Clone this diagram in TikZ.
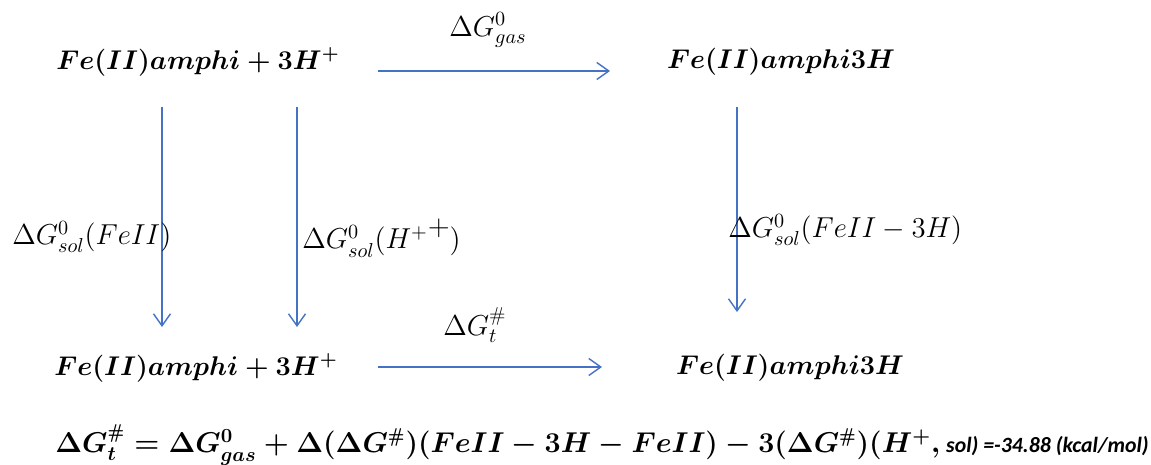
\RequirePackage{fix-cm}
\documentclass[tikz,border=0pt]{standalone}
\usepackage{amsmath}
\usepackage{fontspec}
\newfontfamily\calib{Carlito}
\usetikzlibrary{arrows.meta}
\definecolor{arrblue}{RGB}{68,114,196}
\newcommand{\spc}[1]{{\boldmath$#1$}}

\begin{document}
\begin{tikzpicture}[x=0.02cm, y=-0.02cm,
  every node/.style={font=\fontsize{15.4}{18}\selectfont, inner sep=0pt},
  lbl/.style={font=\fontsize{16.4}{19}\selectfont},
  arr/.style={draw=arrblue, line width=0.8pt,
    -{Straight Barb[length=2.4mm,width=3.4mm]}}]
  \useasboundingbox (0,0) rectangle (1151,465);
  % species
  \node (tl) at (198,62) {\spc{Fe(II)amphi + 3H^+}};
  \node (tr) at (781,62) {\spc{Fe(II)amphi3H}};
  \node (bl) at (196,368) {\spc{Fe(II)amphi + 3H^+}};
  \node (br) at (790,368) {\spc{Fe(II)amphi3H}};
  % arrow ends
  \coordinate (g0) at (378,71);  \coordinate (g1) at (610,71);
  \coordinate (t0) at (378,367); \coordinate (t1) at (602,367);
  \foreach \n/\x/\y in {a/162/327, b/297/327, c/737/312}
    { \coordinate (\n0) at (\x,107); \coordinate (\n1) at (\x,\y); }
  \draw[arr] (g0) -- (g1);
  \draw[arr] (t0) -- (t1);
  \foreach \n in {a, b, c} \draw[arr] (\n0) -- (\n1);
  % labels
  \node[lbl] (lgas) at (488,30) {$\Delta G^{0}_{gas}$};
  \node[lbl] (lt) at (475,325) {$\Delta G^{\#}_{t}$};
  \node[lbl, anchor=west] (la) at (12,237) {$\Delta G^{0}_{sol}(FeII)$};
  \node[lbl, anchor=west] (lb) at (302,238)
    {$\Delta G^{0}_{sol}(H^{+}\raisebox{1.1ex}{$+$})$};
  \node[lbl, anchor=west] (lc) at (728,230) {$\Delta G^{0}_{sol}(FeII-3H)$};
  % total
  \node[anchor=west, font=\fontsize{16.3}{19}\selectfont] (tot) at (55,445)
    {\spc{\Delta G^{\#}_{t} = \Delta G^{0}_{gas} + \Delta(\Delta G^{\#})(FeII-3H-FeII)
      - 3(\Delta G^{\#})(H^{+},}};
  \node[anchor=base west, font=\calib\fontsize{12.4}{15}\selectfont\bfseries\itshape]
    (unit) at ([xshift=3pt]tot.base east) {sol) =-34.88 (kcal/mol)};
\end{tikzpicture}
\end{document}
